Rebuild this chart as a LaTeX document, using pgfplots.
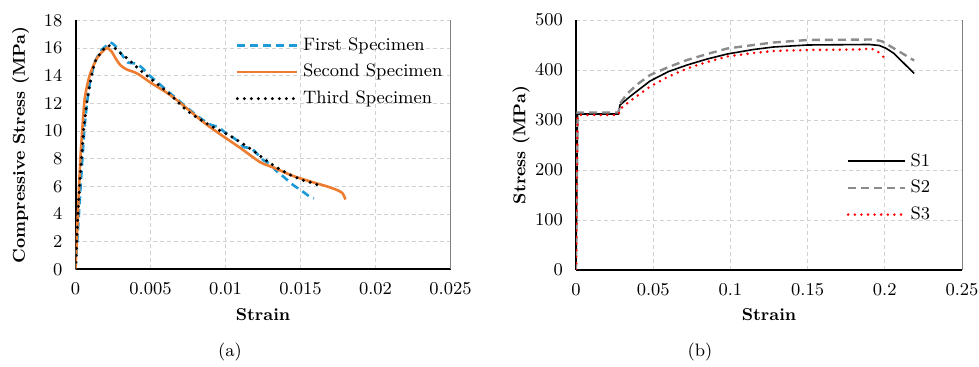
\documentclass[border=0pt]{standalone}
\usepackage{pgfplots}
\pgfplotsset{compat=1.18}
\definecolor{cblue}{RGB}{30,155,215}
\definecolor{corange}{RGB}{237,125,49}
\definecolor{cgray}{RGB}{140,140,140}
\begin{document}
\begin{tikzpicture}
\useasboundingbox (0,0) rectangle (489.5pt,183.5pt);
\pgfplotsset{
  common/.style={
    scale only axis,
    scaled x ticks=false, scaled y ticks=false,
    axis x line*=bottom, axis y line*=left,
    axis line style={line width=1pt,-},
    tick style={draw=none},
    grid=major,
    grid style={black!18, dash pattern=on 2pt off 1.5pt, line width=0.4pt},
    ticklabel style={font=\fontsize{9}{10}\selectfont},
    xticklabel style={yshift=-3pt},
    yticklabel style={xshift=-3pt},
    every axis x label/.style={at={(rel axis cs:0.5,0)}, anchor=center, yshift=-22.5pt, font=\fontsize{8.6}{10}\selectfont\bfseries},
    every axis y label/.style={at={(rel axis cs:0,0.5)}, anchor=center, xshift=-27.5pt, rotate=90, font=\fontsize{8.6}{10}\selectfont\bfseries},
    legend style={draw=none, fill=none, font=\fontsize{9}{10}\selectfont, row sep=1.5pt},
    legend cell align=left,
    after end axis/.code={\draw[black!50, line width=0.5pt] (rel axis cs:1,0) -- (rel axis cs:1,1);},
  }
}
% ---------------- (a) ----------------
\begin{axis}[common,
  at={(37.75pt,48.85pt)}, anchor=south west,
  width=187.5pt, height=124.5pt,
  xmin=0, xmax=0.025, ymin=0, ymax=18,
  xtick={0,0.005,0.01,0.015,0.02,0.025},
  xticklabels={0,0.005,0.01,0.015,0.02,0.025},
  ytick={0,2,...,18},
  xlabel={Strain}, ylabel={Compressive Stress (MPa)},
  legend style={at={(rel axis cs:0.41,0.965)}, anchor=north west},
  legend image code/.code={\draw[#1] (0pt,0pt) -- (30pt,0pt);},
]
\addplot[cblue, line width=1.3pt, dash pattern=on 4pt off 2.5pt, smooth, tension=0.4] coordinates {
(0,0) (0.0002,3.5) (0.0004,7) (0.0006,10.2) (0.0008,12.3) (0.001,13.7) (0.0013,15.0)
(0.0017,15.8) (0.0021,16.2) (0.00233,16.4) (0.0026,16.2) (0.0029,15.8) (0.0032,15.35)
(0.0035,14.95) (0.0038,14.9) (0.0041,14.85) (0.0045,14.5) (0.005,13.95) (0.0065,12.55)
(0.0081,11.1) (0.009,10.45) (0.0095,10.3) (0.0099,9.95) (0.0108,9.3) (0.0112,8.85)
(0.0117,8.75) (0.0121,8.35) (0.0125,7.91) (0.013,7.6) (0.0134,7.1) (0.01385,6.71)
(0.0145,6.1) (0.015,5.74) (0.0156,5.26) (0.0159,5.14)
};
\addlegendentry{First Specimen}
\addplot[corange, line width=1.3pt, smooth, tension=0.4] coordinates {
(0,0) (0.0001,2.5) (0.0002,5) (0.0003,7.5) (0.0004,9.3) (0.0006,12.2) (0.0008,13.4)
(0.001,14.2) (0.0014,15.2) (0.0018,15.75) (0.0021,16.0) (0.0024,15.75) (0.0027,15.2)
(0.003,14.75) (0.0034,14.45) (0.0038,14.3) (0.0042,14.1) (0.005,13.5) (0.0065,12.45)
(0.00875,10.45) (0.011,8.76) (0.0123,7.75) (0.0132,7.35) (0.0145,6.75) (0.0158,6.3)
(0.0168,5.98) (0.0175,5.7) (0.0178,5.5) (0.018,5.05)
};
\addlegendentry{Second Specimen}
\addplot[black, line width=1.7pt, line cap=round, dash pattern=on 0pt off 3.5pt, smooth, tension=0.4] coordinates {
(0,0) (0.00015,3.7) (0.0003,6.5) (0.00045,8.7) (0.00055,10.2) (0.00078,12.2) (0.001,13.6)
(0.0013,15.0) (0.0018,15.8) (0.0021,16.15) (0.0025,16.1) (0.0029,15.7) (0.0035,15.2)
(0.0041,14.6) (0.00475,14.0) (0.0062,12.74) (0.0075,11.41) (0.009,10.38) (0.0103,9.65)
(0.0116,8.76) (0.0128,7.8) (0.0135,7.31) (0.0143,6.83) (0.0152,6.42) (0.016,6.18) (0.0164,5.87)
};
\addlegendentry{Third Specimen}
\end{axis}
% ---------------- (b) ----------------
\begin{axis}[common,
  at={(288pt,48.5pt)}, anchor=south west,
  width=193pt, height=125pt,
  xmin=0, xmax=0.25, ymin=0, ymax=500,
  xtick={0,0.05,0.1,0.15,0.2,0.25},
  xticklabels={0,0.05,0.1,0.15,0.2,0.25},
  ytick={0,100,...,500},
  xlabel={Strain}, ylabel={Stress (MPa)},
  legend style={at={(rel axis cs:0.685,0.5)}, anchor=north west},
  legend image code/.code={\draw[#1] (0pt,0pt) -- (28.5pt,0pt);},
]
\addplot[black, line width=0.8pt] coordinates {
(0,0) (0.001,312) (0.0275,312) (0.0285,330) (0.035,347) (0.048,378) (0.06,397) (0.072,410)
(0.085,422) (0.098,432) (0.115,441) (0.128,446) (0.15,450) (0.19,451) (0.1965,449)
(0.201,443) (0.206,433) (0.219,393)
};
\addlegendentry{S1}
\addplot[cgray, line width=1.2pt, dash pattern=on 4pt off 2.5pt] coordinates {
(0,0) (0.001,315) (0.0275,315) (0.0285,333) (0.033,352) (0.04,372) (0.048,390) (0.06,406)
(0.072,420) (0.085,432) (0.098,443) (0.115,450) (0.128,455) (0.15,460) (0.193,461)
(0.1985,457) (0.2006,453) (0.219,419)
};
\addlegendentry{S2}
\addplot[red, line width=1.4pt, line cap=round, dash pattern=on 0pt off 3.3pt] coordinates {
(0,0) (0.001,310) (0.0275,310) (0.0286,322) (0.035,338) (0.048,367) (0.06,387) (0.072,403)
(0.085,416) (0.098,427) (0.115,434) (0.128,438) (0.15,440) (0.184,441) (0.191,443)
(0.195,438) (0.1985,428) (0.2018,417)
};
\addlegendentry{S3}
\end{axis}
\node[font=\fontsize{9}{10}\selectfont] at (115pt,7.5pt) {(a)};
\node[font=\fontsize{9}{10}\selectfont] at (350pt,7.5pt) {(b)};
\end{tikzpicture}
\end{document}
